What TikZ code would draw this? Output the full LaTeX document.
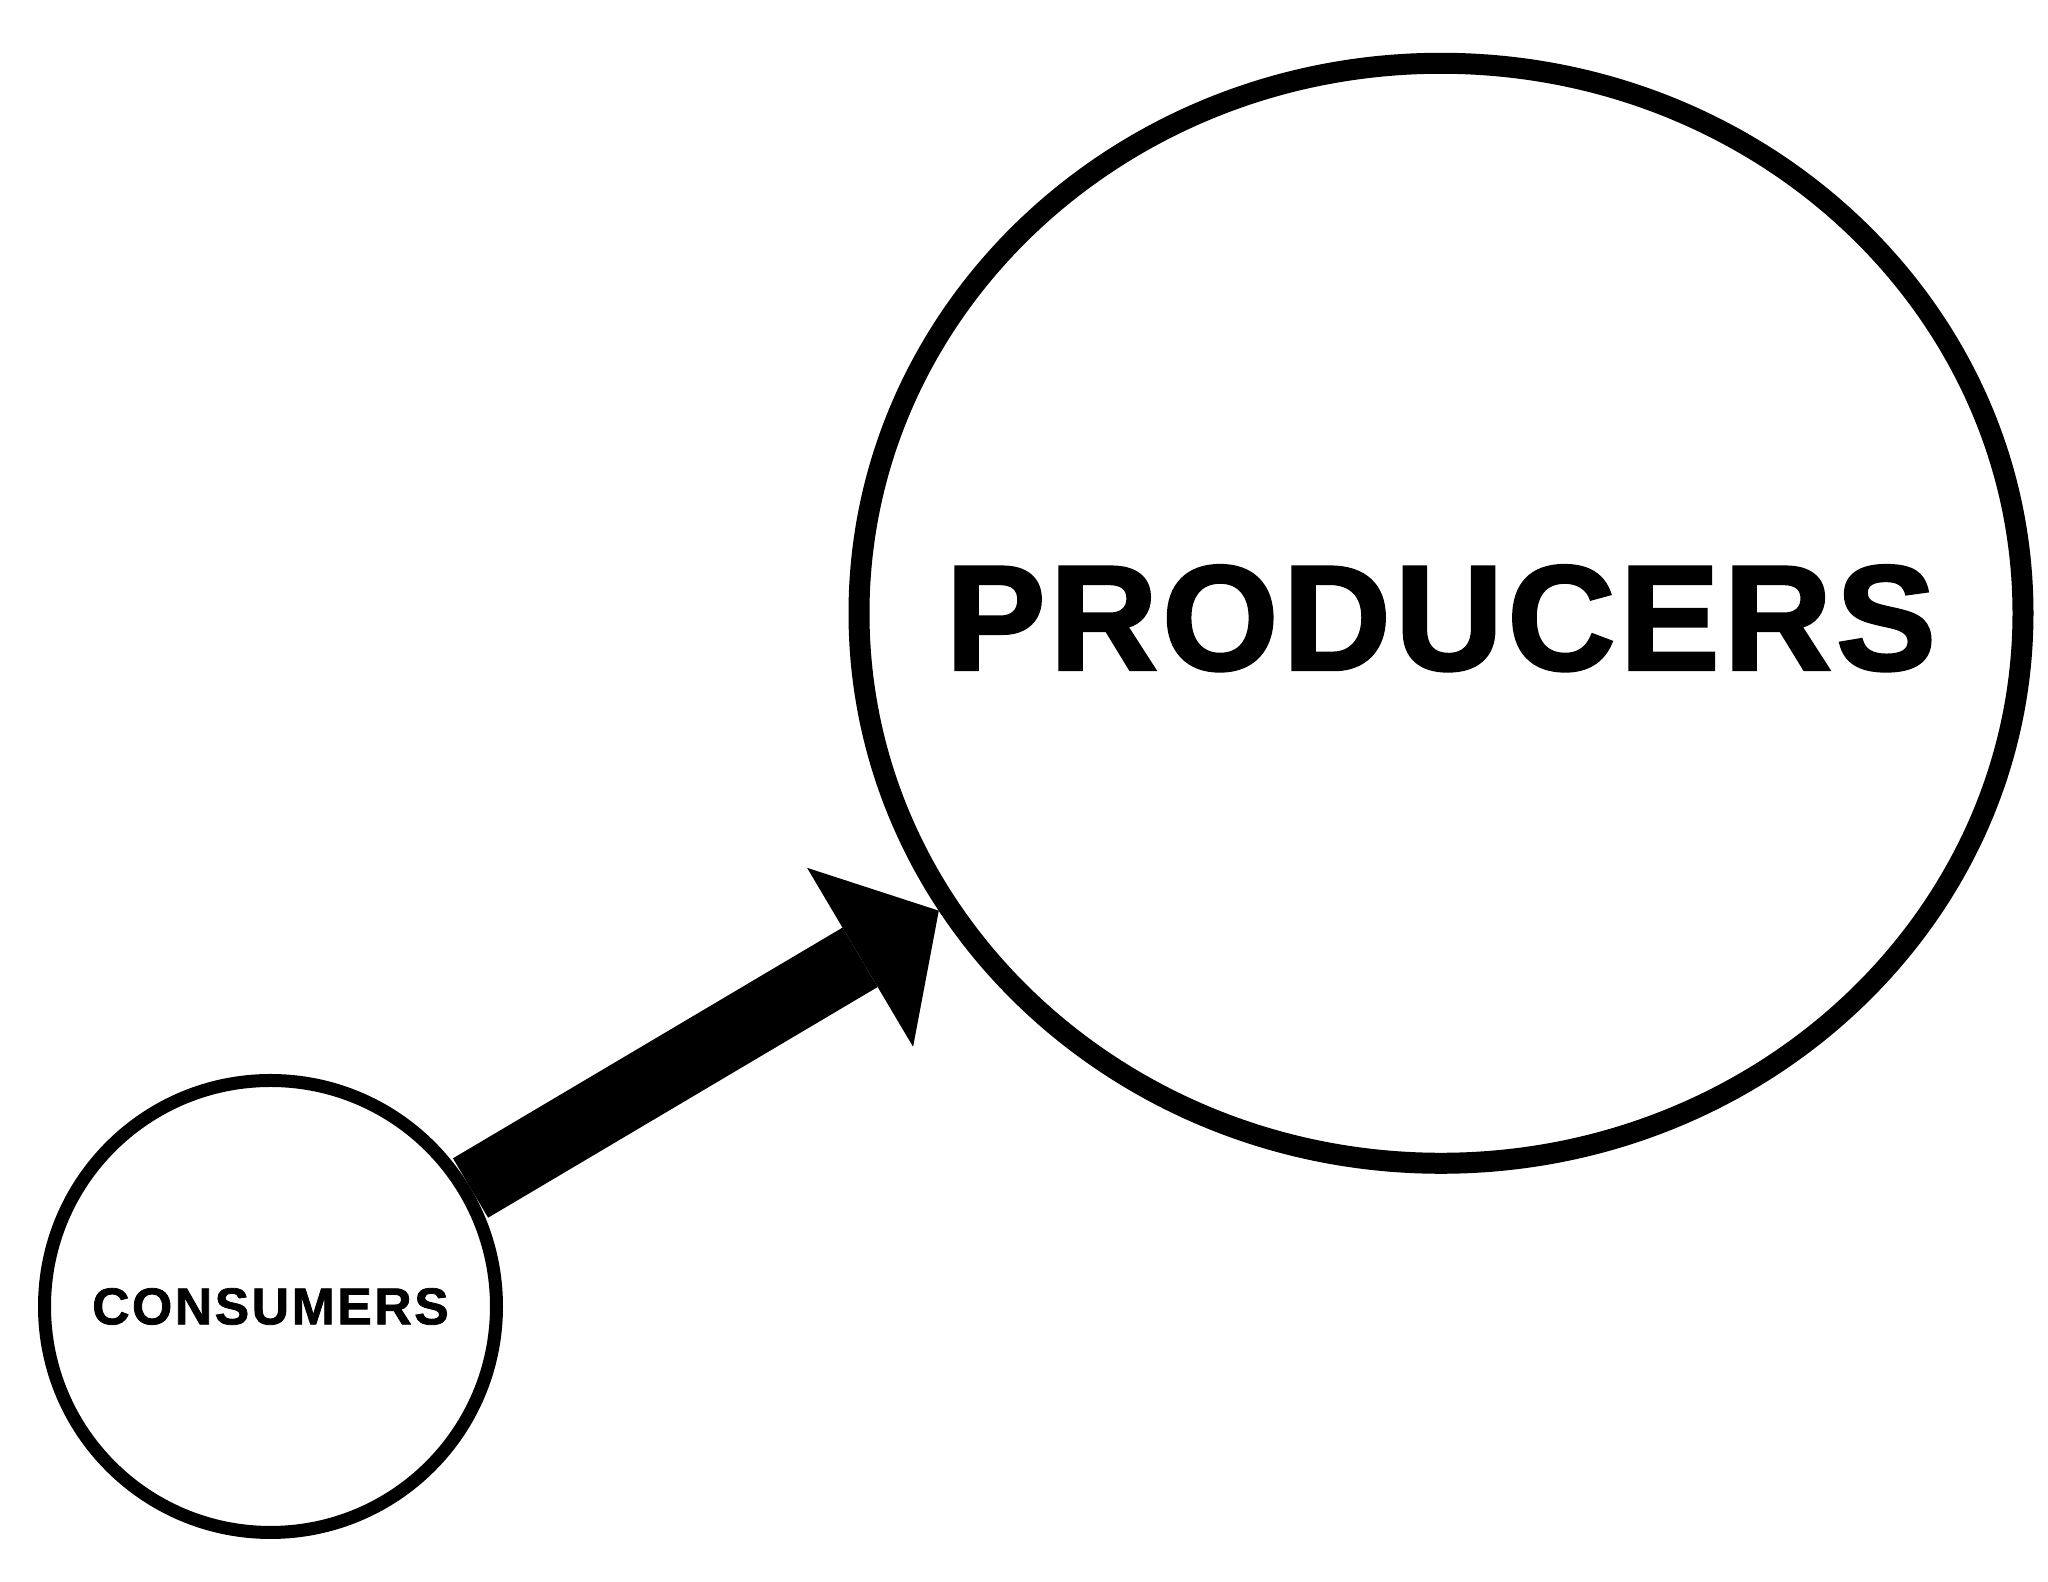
\documentclass[tikz,border=0pt]{standalone}
\usepackage{fontspec}
\setmainfont{Liberation Sans}
\usetikzlibrary{arrows.meta,shapes.geometric}
\begin{document}
\begin{tikzpicture}[
    market/.style={draw,ellipse,inner sep=0pt},
    flow/.style={line width=6.9mm,-{Triangle[length=9.15mm,width=20.8mm,line width=0pt]}}
  ]
  \useasboundingbox (0,0) rectangle (20.48,15.82);
  \node[market,line width=2.1mm,minimum width=11.64cm,minimum height=11cm] (p) at (14.41,9.687) {};
  \node (ptext) at ([yshift=-0.5mm]p.center) {\fontsize{42.5}{43}\bfseries\addfontfeature{LetterSpace=3,FakeBold=2}PRODUCERS};
  \node[market,circle,line width=1.3mm,minimum size=4.52cm] (c) at (2.705,2.755) {\raisebox{-0.65mm}{\fontsize{14.7}{15}\bfseries\addfontfeature{LetterSpace=5,FakeBold=1.5}CONSUMERS}};
  \draw[flow] (c) -- (p);
\end{tikzpicture}
\end{document}
